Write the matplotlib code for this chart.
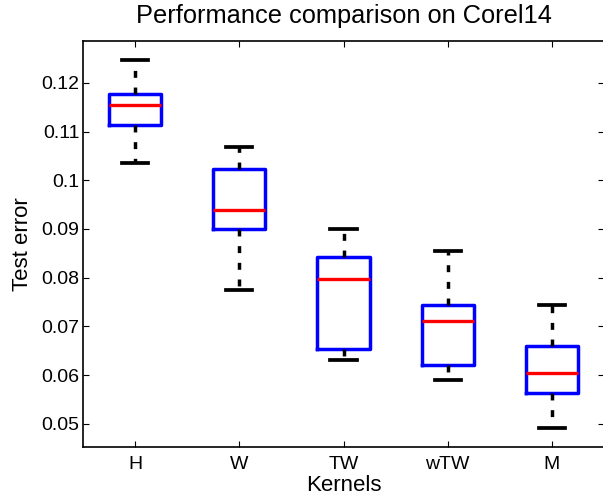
import matplotlib
matplotlib.use("Agg")
import matplotlib.pyplot as plt

kernels = ["H", "W", "TW", "wTW", "M"]
whisker_low = [0.1036, 0.0775, 0.0631, 0.0590, 0.0491]
q1 = [0.1113, 0.0901, 0.0654, 0.0621, 0.0563]
median = [0.1154, 0.0939, 0.0797, 0.0712, 0.0605]
q3 = [0.1178, 0.1023, 0.0843, 0.0744, 0.0659]
whisker_high = [0.1248, 0.1068, 0.0900, 0.0855, 0.0744]
yticks = [0.05, 0.06, 0.07, 0.08, 0.09, 0.1, 0.11, 0.12]
ytick_labels = ["0.05", "0.06", "0.07", "0.08", "0.09", "0.1", "0.11", "0.12"]

plt.rcParams["font.family"] = ["Liberation Sans", "DejaVu Sans"]

fig = plt.figure(figsize=(6.03, 4.96), dpi=100)
ax = fig.add_axes([83 / 603, 1 - 446.7 / 496, 521 / 603, (446.7 - 41) / 496])

stats = []
for i, k in enumerate(kernels):
    stats.append(dict(label=k, whislo=whisker_low[i], q1=q1[i], med=median[i],
                      q3=q3[i], whishi=whisker_high[i], fliers=[]))

ax.bxp(stats, positions=range(1, len(kernels) + 1), widths=0.5,
       showfliers=False,
       boxprops=dict(color="#0000ff", linewidth=2.5),
       medianprops=dict(color="#ff0000", linewidth=2.4),
       whiskerprops=dict(color="black", linewidth=2.5, linestyle=(0, (2.0, 2.8))),
       capprops=dict(color="black", linewidth=2.7))

ax.set_xlim(0.5, 5.5)
ax.set_ylim(0.0453, 0.1286)
ax.set_yticks(yticks)
ax.set_yticklabels(ytick_labels)
ax.set_xticks(range(1, len(kernels) + 1))
ax.set_xticklabels(kernels)
ax.tick_params(direction="in", top=True, right=True, length=4, width=0.8,
               labelsize=14)
ax.tick_params(axis="x", pad=7)
ax.tick_params(axis="y", pad=2.5)
for s in ax.spines.values():
    s.set_linewidth(1.2)

ax.set_title("Performance comparison on Corel14", fontsize=18.3, pad=13)
ax.set_xlabel("Kernels", fontsize=16, labelpad=1)
ax.set_ylabel("Test error", fontsize=16, labelpad=6)

fig.savefig("out.png", dpi=100)
